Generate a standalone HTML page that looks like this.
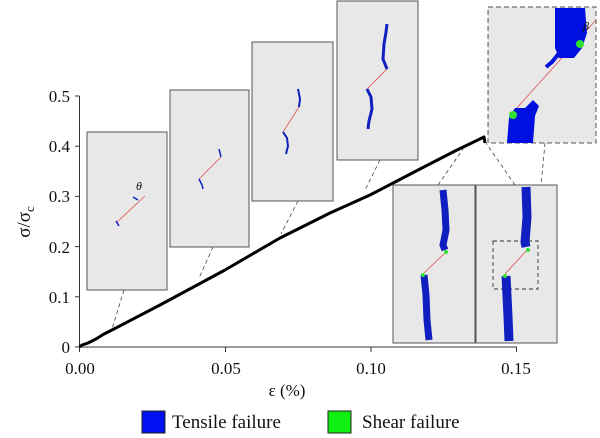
<!DOCTYPE html>
<html><head><meta charset="utf-8"><style>
body{margin:0;background:#fff}
svg{display:block}
text{font-family:"Liberation Serif",serif;fill:#111}
</style></head><body>
<svg width="600" height="438" viewBox="0 0 600 438" xmlns="http://www.w3.org/2000/svg">
<g stroke="#333" stroke-width="1" fill="none">
<line x1="79.5" y1="96" x2="79.5" y2="347"/>
<line x1="79.5" y1="347" x2="517" y2="347"/>
<line x1="75" y1="347" x2="79.5" y2="347"/>
<line x1="75" y1="296.8" x2="79.5" y2="296.8"/>
<line x1="75" y1="246.6" x2="79.5" y2="246.6"/>
<line x1="75" y1="196.4" x2="79.5" y2="196.4"/>
<line x1="75" y1="146.2" x2="79.5" y2="146.2"/>
<line x1="75" y1="96" x2="79.5" y2="96"/>
<line x1="79.5" y1="347" x2="79.5" y2="352"/>
<line x1="225.5" y1="347" x2="225.5" y2="352"/>
<line x1="371" y1="347" x2="371" y2="352"/>
<line x1="516.5" y1="347" x2="516.5" y2="352"/>
</g>
<g font-size="17" text-anchor="end">
<text x="70" y="353">0</text><text x="70" y="303">0.1</text><text x="70" y="253">0.2</text>
<text x="70" y="202">0.3</text><text x="70" y="152">0.4</text><text x="70" y="102">0.5</text>
</g>
<g font-size="17" text-anchor="middle">
<text x="80" y="374">0.00</text><text x="226" y="374">0.05</text><text x="371" y="374">0.10</text><text x="516" y="374">0.15</text>
<text x="287" y="396">ε (%)</text>
</g>
<text font-size="19" transform="translate(30,222) rotate(-90)" text-anchor="middle">σ/σ<tspan font-size="13" dy="4">c</tspan></text>
<g stroke="#444" stroke-width="0.8" stroke-dasharray="4,3" fill="none">
<line x1="124" y1="290" x2="112" y2="329"/>
<line x1="213" y1="247" x2="199" y2="278"/>
<line x1="298" y1="201" x2="281" y2="234"/>
<line x1="380" y1="160" x2="365" y2="190"/>
<line x1="438" y1="185" x2="463" y2="149"/>
<line x1="515" y1="185" x2="486" y2="143"/>
<line x1="545" y1="143" x2="536" y2="241"/>
</g>
<polyline fill="none" stroke="#000" stroke-width="3" stroke-linejoin="round" points="79.5,347 82,345 88,343 96,339 104,334 112,330 160,305 225,270 280,238 330,213 370,195 420,169 455,151 484,137 485,143"/>
<g stroke="#555" stroke-width="1" fill="#e8e8e8">
<rect x="87" y="132" width="80" height="158"/>
<rect x="170" y="90" width="79" height="157"/>
<rect x="252" y="42" width="81" height="159"/>
<rect x="337" y="1" width="81" height="159"/>
<rect x="393" y="185" width="82" height="158"/>
<rect x="476" y="185" width="81" height="158"/>
<rect x="488" y="7" width="108" height="136" stroke-dasharray="5,3"/>
</g>
<rect x="493" y="241" width="45" height="48" fill="none" stroke="#333" stroke-width="0.9" stroke-dasharray="4,3"/>
<line x1="117" y1="222" x2="145" y2="196" stroke="#e05050" stroke-width="0.8"/>
<path d="M116,221 l3,5" stroke="#1020c0" stroke-width="1.5" fill="none"/>
<path d="M133,197 l5,3" stroke="#1020c0" stroke-width="1.5" fill="none"/>
<text x="136" y="190" font-size="12" font-style="italic">θ</text>
<line x1="199" y1="179" x2="221" y2="157" stroke="#e05050" stroke-width="0.8"/>
<path d="M199,179 l3,6 l1,4 M221,157 l-2,-8" stroke="#1020c0" stroke-width="1.5" fill="none"/>
<line x1="283" y1="132" x2="299" y2="107" stroke="#e05050" stroke-width="0.8"/>
<path d="M283,132 l4,6 l1,8 l-2,8 M299,107 l1,-8 l-2,-10" stroke="#1020c0" stroke-width="2" fill="none"/>
<line x1="367" y1="89" x2="387" y2="69" stroke="#e05050" stroke-width="0.8"/>
<path d="M367,89 l4,8 l1,12 l-3,12 l-1,8 M387,69 l-4,-10 l1,-15 l2,-12 l1,-8" stroke="#1020c0" stroke-width="3" fill="none"/>
<line x1="424" y1="273" x2="445" y2="253" stroke="#e05050" stroke-width="0.8"/>
<path d="M443,190 l2,20 l1,20 l-3,15 l2,5 M424,275 l2,20 l1,25 l2,20" stroke="#1020c0" stroke-width="7" fill="none"/>
<circle cx="446" cy="252" r="2" fill="#30e030"/><circle cx="423" cy="275" r="2" fill="#30e030"/>
<line x1="505" y1="274" x2="527" y2="250" stroke="#e05050" stroke-width="0.8"/>
<path d="M526,187 l1,30 l-2,25 l1,5 M506,276 l1,20 l1,20 l1,25" stroke="#1020c0" stroke-width="9" fill="none"/>
<circle cx="528" cy="250" r="2" fill="#30e030"/><circle cx="505" cy="276" r="2" fill="#30e030"/>
<line x1="515" y1="110" x2="596" y2="20" stroke="#e05050" stroke-width="0.8"/>
<path d="M555,8 l30,0 l2,25 l-5,15 l-8,10 l-15,0 l-4,-10 z" fill="#0010e0"/>
<path d="M560,52 l-8,10 l-6,5" stroke="#0010e0" stroke-width="4" fill="none"/>
<path d="M507,143 l2,-25 l6,-10 l10,0 l8,-8 l6,6 l-4,10 l-2,27 z" fill="#0010e0"/>
<circle cx="580" cy="44" r="4" fill="#30e030"/><circle cx="513" cy="115" r="4" fill="#30e030"/>
<text x="583" y="30" font-size="12" font-style="italic">β</text>
<rect x="142" y="411" width="23" height="22" fill="#0010f0" stroke="#222"/>
<text x="172" y="428" font-size="19">Tensile failure</text>
<rect x="328" y="411" width="23" height="22" fill="#10f010" stroke="#222"/>
<text x="362" y="428" font-size="19">Shear failure</text>
</svg>
</body></html>
